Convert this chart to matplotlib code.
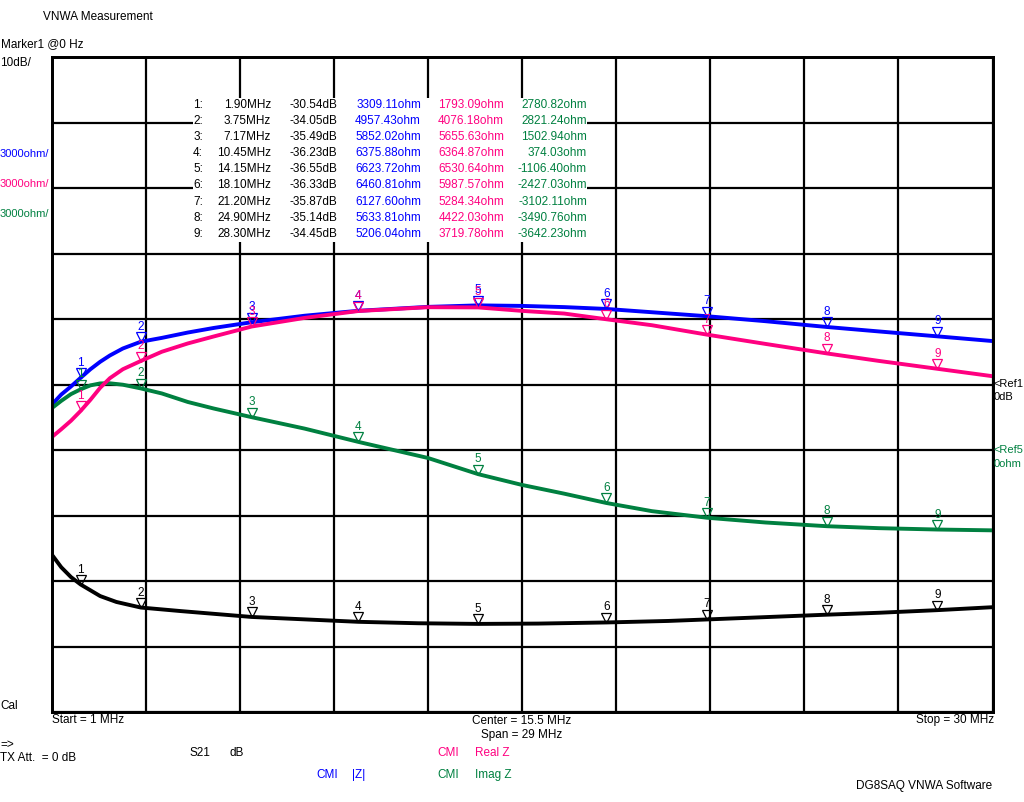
import matplotlib.pyplot as plt
import numpy as np
from matplotlib.patches import Rectangle
from matplotlib.transforms import offset_copy

plt.rcParams['font.family'] = ['Liberation Sans', 'DejaVu Sans']

BLUE = '#0000ff'
RED = '#ff0080'
GREEN = '#008040'

# marker table
mk_freq = [1.90, 3.75, 7.17, 10.45, 14.15, 18.10, 21.20, 24.90, 28.30]
mk_db = [-30.54, -34.05, -35.49, -36.23, -36.55, -36.33, -35.87, -35.14, -34.45]
mk_absz = [3309.11, 4957.43, 5852.02, 6375.88, 6623.72, 6460.81, 6127.60, 5633.81, 5206.04]
mk_realz = [1793.09, 4076.18, 5655.63, 6364.87, 6530.64, 5987.57, 5284.34, 4422.03, 3719.78]
mk_imagz = [2780.82, 2821.24, 1502.94, 374.03, -1106.40, -2427.03, -3102.11, -3490.76, -3642.23]

# extra points of the traces between the markers
ex_freq_db = [1.0, 1.3, 1.6, 2.5, 3.0, 5.0, 12.3, 16.0, 20.0, 26.5, 30.0]
ex_db = [-25.9, -27.9, -29.4, -32.3, -33.2, -34.6, -36.45, -36.5, -36.1, -34.85, -34.0]

ex_freq_z = [1.0, 1.3, 1.6, 2.2, 2.5, 2.8, 3.2, 4.4, 5.2, 6.0, 8.8, 12.6, 15.5, 16.8, 19.5, 23.0, 26.5, 30.0]
ex_absz = [2060, 2540, 2910, 3700, 4040, 4330, 4650, 5135, 5380, 5590, 6150, 6555, 6600, 6545, 6310, 5900, 5430, 4990]
ex_realz = [580, 950, 1340, 2300, 2850, 3290, 3700, 4500, 4880, 5200, 6050, 6540, 6372, 6250, 5716, 4860, 4080, 3380]
ex_imagz = [1905, 2250, 2560, 2960, 3050, 3055, 2990, 2590, 2200, 1900, 980, -365, -1600, -2000, -2800, -3320, -3580, -3680]


def trace(fx, fy, mx, my):
    f = np.array(list(fx) + list(mx))
    v = np.array(list(fy) + list(my))
    o = np.argsort(f)
    return f[o], v[o]


W, H = 1024, 802
fig = plt.figure(figsize=(W / 100, H / 100), dpi=100)
L, R, T, B = 51.5, 992.5, 57, 712
ax = fig.add_axes([L / W, 1 - B / H, (R - L) / W, (B - T) / H])
ax2 = ax.twinx()

ax.set_xlim(1, 30)
ax.set_ylim(-50, 50)
ax2.set_ylim(-12000, 18000)
ax.set_xticks(np.linspace(1, 30, 11))
ax.set_yticks(np.linspace(-50, 50, 11))
ax2.set_yticks([])
ax.tick_params(length=0, labelbottom=False, labelleft=False)
ax2.tick_params(length=0, labelright=False)
ax.grid(True, color='black', lw=1.6)
for a in (ax, ax2):
    for s in a.spines.values():
        s.set_linewidth(2)
        s.set_color('black')

f, v = trace(ex_freq_db, ex_db, mk_freq, mk_db)
ax.plot(f, v, color='black', lw=2.8, solid_capstyle='butt')
for col, ey, my in [(BLUE, ex_absz, mk_absz), (GREEN, ex_imagz, mk_imagz), (RED, ex_realz, mk_realz)]:
    f, v = trace(ex_freq_z, ey, mk_freq, my)
    ax2.plot(f, v, color=col, lw=2.8, solid_capstyle='butt')


def markers(a, vals, col):
    tr = offset_copy(a.transData, fig=fig, y=4.5, units='dots')
    a.plot(mk_freq, vals, ls='none', marker='v', ms=6.5, mfc='none', mec=col, mew=0.9, transform=tr)
    for i, (x, y) in enumerate(zip(mk_freq, vals)):
        a.annotate(str(i + 1), (x, y), xytext=(0, 9), textcoords='offset pixels',
                   ha='center', va='bottom', color=col, fontsize=8.5)


markers(ax, mk_db, 'black')
markers(ax2, mk_absz, BLUE)
markers(ax2, mk_realz, RED)
markers(ax2, mk_imagz, GREEN)


def txt(x, y, s, col='black', ha='left', size=8.5):
    fig.text(x / W, 1 - y / H, s, color=col, ha=ha, va='center', fontsize=size, zorder=6)


# marker table with white background
fig.patches.append(Rectangle(((193) / W, 1 - 242 / H), (587 - 193) / W, (242 - 98) / H,
                             transform=fig.transFigure, facecolor='white', edgecolor='none', zorder=5))
for i in range(len(mk_freq)):
    y = 105 + i * 16.1
    txt(203, y, f'{i + 1}:', ha='right')
    txt(271, y, f'{mk_freq[i]:.2f}MHz', ha='right')
    txt(337, y, f'{mk_db[i]:.2f}dB', ha='right')
    txt(421, y, f'{mk_absz[i]:.2f}ohm', BLUE, ha='right')
    txt(504, y, f'{mk_realz[i]:.2f}ohm', RED, ha='right')
    txt(587, y, f'{mk_imagz[i]:.2f}ohm', GREEN, ha='right')

txt(43, 17, 'VNWA Measurement')
txt(1, 44, 'Marker1 @0 Hz')
txt(0, 63, '10dB/')
txt(0, 154, '3000ohm/', BLUE, size=8)
txt(0, 184, '3000ohm/', RED, size=8)
txt(0, 214, '3000ohm/', GREEN, size=8)
txt(0, 706, 'Cal')
txt(994, 384, '<Ref1', size=8)
txt(994, 397, '0dB', size=8)
txt(994, 450, '<Ref5', GREEN, size=8)
txt(994, 464, '0ohm', GREEN, size=8)
txt(52, 720, 'Start = 1 MHz')
txt(522, 721, 'Center = 15.5 MHz', ha='center')
txt(522, 735, 'Span = 29 MHz', ha='center')
txt(994, 720, 'Stop = 30 MHz', ha='right')
txt(0, 745, '=>')
txt(0, 758, 'TX Att.  = 0 dB')
txt(190, 753, 'S21')
txt(230, 753, 'dB')
txt(437, 753, 'CMI', RED)
txt(475, 753, 'Real Z', RED)
txt(316, 775, 'CMI', BLUE)
txt(352, 775, '|Z|', BLUE)
txt(437, 775, 'CMI', GREEN)
txt(475, 775, 'Imag Z', GREEN)
txt(856, 786, 'DG8SAQ VNWA Software')

fig.savefig('out.png', dpi=100, facecolor='white')
